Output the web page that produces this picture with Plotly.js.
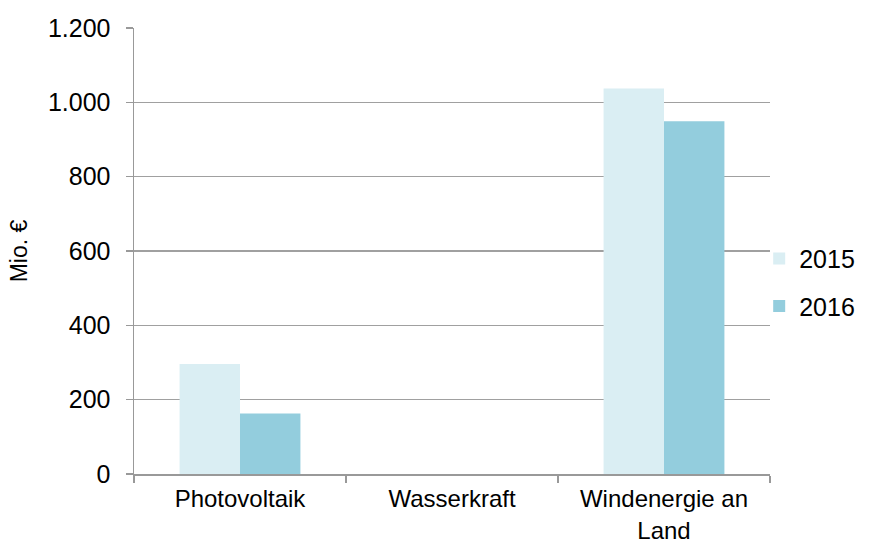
<!DOCTYPE html>
<html>
<head>
<meta charset="utf-8">
<script src="https://cdn.plot.ly/plotly-3.0.1.min.js"></script>
<style>html,body{margin:0;padding:0;background:#fff;}#chart{width:888px;height:545px;}</style>
</head>
<body>
<div id="chart"></div>
<script>
const categories = ["Photovoltaik", "Wasserkraft", "Windenergie an<br>Land"];
const values2015 = [296, 0, 1037];
const values2016 = [163, 0, 949];
const seriesNames = ["2015", "2016"];
const yTickVals = [0, 200, 400, 600, 800, 1000, 1200];
const yTickText = ["0", "200", "400", "600", "800", "1.000", "1.200"];

const font = {family: "Liberation Sans, Arial, sans-serif", size: 25, color: "#000"};
const xfont = {family: "Liberation Sans, Arial, sans-serif", size: 24, color: "#000"};

const traces = [
  {type: "bar", name: seriesNames[0], x: categories, y: values2015, legendgroup: "a",
   marker: {color: "#DAEEF3", line: {width: 0}}},
  {type: "bar", name: seriesNames[1], x: categories, y: values2016, legendgroup: "b",
   marker: {color: "#93CDDD", line: {width: 0}}}
];

const layout = {
  width: 888, height: 545,
  margin: {l: 134, r: 118, t: 28, b: 71, pad: 0},
  paper_bgcolor: "#fff", plot_bgcolor: "#fff",
  font: font,
  barmode: "group", bargap: 0.43, bargroupgap: 0,
  showlegend: true,
  legend: {x: 0.983, xanchor: "left", y: 0.43, yanchor: "middle", font: font,
           traceorder: "grouped", tracegroupgap: 12, itemwidth: 30, bgcolor: "rgba(0,0,0,0)"},
  xaxis: {
    type: "category", tickson: "boundaries", ticks: "outside", ticklen: 7,
    tickcolor: "#999", tickwidth: 1.5, showline: true, linecolor: "#999", linewidth: 1.5,
    showgrid: false, tickfont: xfont, automargin: false, ticklabelstandoff: 3
  },
  yaxis: {
    range: [0, 1200], tickvals: yTickVals, ticktext: yTickText,
    ticks: "outside", ticklen: 7, tickcolor: "#999", tickwidth: 1.5,
    showline: true, linecolor: "#999", linewidth: 1.5,
    showgrid: true, gridcolor: "#a0a0a0", gridwidth: 1.5, zeroline: false,
    tickfont: font, automargin: false, ticklabelstandoff: 10,
    title: {text: "Mio. €", font: {family: font.family, size: 23, color: "#000"}, standoff: 14}
  }
};

Plotly.newPlot("chart", traces, layout, {displayModeBar: false, staticPlot: true});
</script>
</body>
</html>
